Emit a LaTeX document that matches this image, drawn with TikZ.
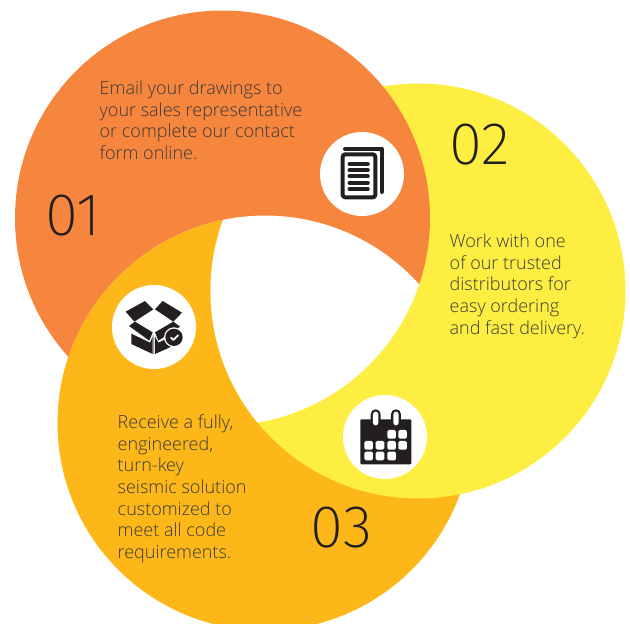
\documentclass[tikz,border=0pt]{standalone}
\usepackage{fontspec}
\setmainfont{Open Sans Light}
\newfontfamily\thinfont{Fira Sans ExtraLight}
\definecolor{cOrange}{HTML}{F6853E}
\definecolor{cYellow}{HTML}{FFEE42}
\definecolor{cGold}{HTML}{FDB718}
\definecolor{cInk}{HTML}{231F20}
\definecolor{cText}{HTML}{3A3A3A}
\tikzset{
 bodytext/.style={anchor=north west,align=left,inner sep=0pt,text=cText,font=\fontsize{18}{21.7}\selectfont},
 bignum/.style={inner sep=0pt,text=cInk,font=\thinfont\fontsize{60}{60}\selectfont},
 iconbg/.style={circle,fill=white,minimum size=84pt,inner sep=0pt},
 inkline/.style={draw=cInk,line width=4pt,line cap=round,line join=round},
}
\def\Rad{207.5}
\begin{document}
\begin{tikzpicture}[x=1pt,y=-1pt]
\useasboundingbox (0,0) rectangle (630,624);
\begin{scope}
\clip (0,0) rectangle (630,624);
\fill[cGold] (265,423) circle (\Rad);
\fill[cYellow] (418,291) circle (\Rad);
% white hole under the orange, slightly oversize toward the gold edge
\begin{scope}
 \clip (265,423) circle (209);
 \clip (418,291) circle (\Rad);
 \fill[white] (222.5,218) circle (\Rad);
\end{scope}
% orange lies over yellow but under gold
\begin{scope}[even odd rule]
 \clip (-10,-10) rectangle (640,640) (265,423) circle (\Rad);
 \fill[cOrange] (222.5,218) circle (\Rad);
\end{scope}
\end{scope}
\node[iconbg] (iconDoc) at (362,174) {};
\node[iconbg] (iconBox) at (154,327) {};
\node[iconbg] (iconCal) at (385,437) {};
% document icon
\draw[inkline] (345,149) -- (381.7,149) -- (381.7,192);
\draw[inkline,rounded corners=2.5pt] (342.7,154.3) rectangle (375.3,197.3);
\foreach \yy in {164,170.3,176.3,182.7,189}
 \draw[inkline] (349.5,\yy) -- (367.8,\yy);
% box icon
\begin{scope}[shift={(90,270)},x=0.3333pt,y=-0.3333pt]
 \fill[cInk] (107,125) -- (165,93) -- (190,118) -- (133,155) -- cycle;
 \fill[cInk] (195,118) -- (218,93) -- (276,128) -- (250,155) -- cycle;
 \fill[cInk] (117,168) -- (135,155) -- (188,187) -- (178,212) -- cycle;
 \fill[cInk] (195,187) -- (250,155) -- (270,170) -- (205,212) -- cycle;
 \fill[cInk] (124,191) -- (180,218) -- (188,200) -- (188,252) -- (124,222) -- cycle;
 \fill[cInk] (195,200) -- (205,218) -- (262,191) -- (262,222) -- (195,252) -- cycle;
 \fill[white] (252,202) circle (30);
 \fill[cInk] (252,202) circle (26);
 \draw[white,line width=1.8pt,line cap=round,line join=round] (243,203) -- (250,210) -- (264,196);
 \draw[gray!70,line width=1pt] (191,196) -- (191,252);
\end{scope}
% calendar icon
\begin{scope}[shift={(325,380)},x=0.3333pt,y=-0.3333pt]
 \fill[cInk,rounded corners=1pt] (106,118) rectangle (259,253);
 \foreach \xx in {152,213}{
  \fill[cInk,rounded corners=4.9pt] (\xx-15,88) rectangle (\xx+15,140);
  \fill[white,rounded corners=2.6pt] (\xx-8,95) rectangle (\xx+8,136);
 }
 \foreach \xx/\yy in {200/163,233/163,131/196,165/196,200/196,233/196,131/228,165/228,200/228}
  \fill[white,rounded corners=1.5pt] (\xx-13,\yy-13) rectangle (\xx+13,\yy+13);
\end{scope}
% text
\node[bodytext] (t1) at (99.5,80.5) {Email your drawings to\\your sales representative\\or complete our contact\\form online.};
\node[bodytext] (t2) at (449.5,233.5) {Work with one\\of our trusted\\distributors for\\easy ordering\\and fast delivery.};
\node[bodytext] (t3) at (117.5,414.5) {Receive a fully,\\engineered,\\turn-key\\seismic solution\\customized to\\meet all code\\requirements.};
\node[bignum] (n1) at (73,216) {01};
\node[bignum] (n2) at (480,145) {02};
\node[bignum] (n3) at (341.5,528) {03};
\end{tikzpicture}
\end{document}
